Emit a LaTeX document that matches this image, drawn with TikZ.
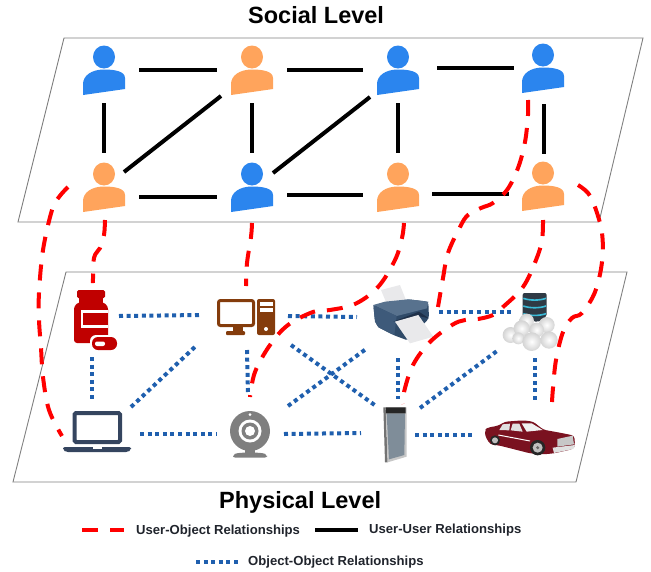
\documentclass[tikz,border=0pt]{standalone}
\usepackage{fontspec}
\setmainfont{Liberation Sans}
\definecolor{ublue}{HTML}{2B85EE}
\definecolor{uorange}{HTML}{FFA45C}
\definecolor{linkblue}{HTML}{1F5FAE}
\definecolor{medred}{HTML}{C00000}
\definecolor{pcbrown}{HTML}{843C0C}
\definecolor{lapnavy}{HTML}{35455F}
\definecolor{camgray}{HTML}{7F7F7F}
\definecolor{cardark}{HTML}{7A1220}
\definecolor{legendtext}{HTML}{20242C}
\definecolor{prbody}{HTML}{2F4A68}
\definecolor{prtop}{HTML}{58728E}
\definecolor{prside}{HTML}{3E5A7A}
\definecolor{prdark}{HTML}{1F3048}
\definecolor{prpaper}{HTML}{E9E9EB}
\definecolor{dbdark}{HTML}{2F3A45}
\definecolor{dbcyan}{HTML}{3BBBD8}
\definecolor{devscreen}{HTML}{7F8D99}
\tikzset{
  plane/.style={draw=black!50,line width=0.9pt},
  uu/.style={draw=black,line width=4pt},
  oo/.style={draw=linkblue,line width=4pt,dash pattern=on 4pt off 3.6pt},
  uo/.style={draw=red,line width=4pt,dash pattern=on 16pt off 12pt},
  userbox/.style={inner sep=0pt,minimum width=70pt,minimum height=67pt},
  objbox/.style={inner sep=0pt,minimum width=40pt,minimum height=40pt},
  title/.style={font=\fontsize{23.5}{26}\selectfont\bfseries,anchor=base west,inner sep=0pt},
  legend/.style={font=\fontsize{13.1}{15}\selectfont\bfseries,text=legendtext,anchor=west,inner sep=0pt},
  ballfill/.style={inner color=white,outer color=black!17}
}
\newcommand{\personicon}[4]{%
  \node[userbox] (#1) at (#2,#3+12.5) {};
  \begin{scope}[shift={(#2,#3)}]
    \fill[#4] (0,0) ellipse [x radius=11,y radius=11.5];
    \fill[#4] (-21,38) -- (21,32) -- (21,21) .. controls (21,14) and (10,12.5) .. (0,12.5)
      .. controls (-13,12.5) and (-21,19) .. (-21,27) -- cycle;
  \end{scope}}
\newcommand{\snowball}[3]{\shade[ballfill] (#1,#2) circle [radius=#3];}
\begin{document}
\begin{tikzpicture}[x=1pt,y=-1pt]
\useasboundingbox (0,0) rectangle (651,571);
% planes
\draw[plane] (64,38) -- (643,38) -- (599,222) -- (18,222) -- cycle;
\draw[plane] (66,272) -- (627,272) -- (576,482) -- (13,482) -- cycle;
% titles
\node[title] (socialtitle) at (248,23) {Social Level};
\node[title] (physicaltitle) at (219,508) {Physical Level};
% users
\personicon{u1}{104}{57}{ublue}
\personicon{u2}{252}{57}{uorange}
\personicon{u3}{398}{57}{ublue}
\personicon{u4}{543}{55}{ublue}
\personicon{u5}{104}{174}{uorange}
\personicon{u6}{252}{174}{ublue}
\personicon{u7}{398}{174}{uorange}
\personicon{u8}{543}{173}{uorange}
% object anchors
\node[objbox] (o1) at (92,320) {};
\node[objbox] (o2) at (246,317) {};
\node[objbox] (o3) at (402,315) {};
\node[objbox] (o4) at (532,320) {};
\node[objbox] (o5) at (97,432) {};
\node[objbox] (o6) at (250,434) {};
\node[objbox] (o7) at (395,435) {};
\node[objbox] (o8) at (530,438) {};
% user-user
\draw[uu] (u1.east) -- (u2.west);
\draw[uu] (u2.east) -- (u3.west);
\draw[uu] ([shift={(4,-1.5)}]u3.east) -- ([shift={(6,0.5)}]u4.west);
\draw[uu] ([shift={(0,10.5)}]u5.east) -- ([shift={(0,10.5)}]u6.west);
\draw[uu] ([shift={(0,8.5)}]u6.east) -- ([shift={(0,8.5)}]u7.west);
\draw[uu] ([shift={(-1,7.5)}]u7.east) -- ([shift={(1,8.5)}]u8.west);
\draw[uu] (u1.south) -- (u5.north);
\draw[uu] (u2.south) -- (u6.north);
\draw[uu] (u3.south) -- (u7.north);
\draw[uu] ([shift={(1,3)}]u4.south) -- ([shift={(1,2)}]u8.north);
\draw[uu] ([shift={(20,-14.5)}]u5.center) -- ([shift={(-31,26.5)}]u2.center);
\draw[uu] ([shift={(21,-13.5)}]u6.center) -- ([shift={(-28,27.5)}]u3.center);
% object-object
\draw[oo] ([shift={(27,-4)}]o1.center) -- ([shift={(-45,-2)}]o2.center);
\draw[oo] ([shift={(0,37)}]o1.center) -- ([shift={(-5,-32)}]o5.center);
\draw[oo] ([shift={(34,-25)}]o5.center) -- ([shift={(-49,28)}]o2.center);
\draw[oo] ([shift={(43,2)}]o5.center) -- ([shift={(-33,0)}]o6.center);
\draw[oo] ([shift={(1,33)}]o2.center) -- ([shift={(-2,-39)}]o6.center);
\draw[oo] ([shift={(34,0)}]o6.center) -- ([shift={(-34,-2)}]o7.center);
\draw[oo] ([shift={(42,-1)}]o2.center) -- ([shift={(-45,2)}]o3.center);
\draw[oo] ([shift={(45,28)}]o2.center) -- ([shift={(-19,-29)}]o7.center);
\draw[oo] ([shift={(38,-28)}]o6.center) -- ([shift={(-36,34)}]o3.center);
\draw[oo] ([shift={(37,-3)}]o3.center) -- ([shift={(-18,-8)}]o4.center);
\draw[oo] ([shift={(-4,43)}]o3.center) -- ([shift={(3,-36)}]o7.center);
\draw[oo] ([shift={(25,-27)}]o7.center) -- ([shift={(-35,31)}]o4.center);
\draw[oo] ([shift={(20,0)}]o7.center) -- ([shift={(-57,-3)}]o8.center);
\draw[oo] ([shift={(3,38)}]o4.center) -- ([shift={(5,-38)}]o8.center);
% medicine
\fill[medred,rounded corners=1.5pt] (77,290) rectangle (105,298);
\fill[medred,rounded corners=3pt] (74,343) -- (74,306) -- (79,302) -- (103,302) -- (108,306) -- (108,343) -- cycle;
\fill[medred] (79,297) rectangle (103,303);
\fill[white] (81,310) rectangle (108,328);
\fill[medred] (83,313) rectangle (108,325);
\fill[white,rounded corners=6pt] (90,335) rectangle (119,352);
\fill[medred,rounded corners=6pt] (92,337) rectangle (117,350);
\fill[white,rounded corners=2pt] (95,341.5) rectangle (105,346);
% pc
\draw[pcbrown,line width=3pt,fill=white,rounded corners=2pt] (218.5,300.5) rectangle (253.5,325.5);
\fill[pcbrown] (233,327) rectangle (243,331);
\fill[pcbrown,rounded corners=1pt] (226,331) rectangle (245,335);
\fill[pcbrown,rounded corners=2pt] (257,299) rectangle (275,335);
\fill[white] (259.5,302) rectangle (273,305.5);
\fill[white] (259.5,308) rectangle (273,311.5);
\fill[white] (266,329) circle [radius=2];
% laptop
\draw[lapnavy,line width=4pt,fill=white,rounded corners=1.5pt] (74.5,413) rectangle (120,442);
\fill[lapnavy,rounded corners=2pt] (63,447) -- (131,447) -- (131,450) -- (128,452) -- (66,452) -- (63,450) -- cycle;
\fill[white] (93,447) rectangle (102,449);
% webcam
\fill[camgray] (250,431) circle [radius=20];
\fill[white] (250,431) circle [radius=11.5];
\fill[camgray] (250,431) circle [radius=8.5];
\fill[white] (250,431) circle [radius=5];
\fill[white] (250,414.5) circle [radius=1.5];
\fill[camgray] (245,448) rectangle (255,455);
\fill[camgray,rounded corners=2pt] (233,457.5) -- (233,455) .. controls (238,452) and (262,452) .. (267,455) -- (267,457.5) -- cycle;
% printer
\begin{scope}[shift={(365,280)},scale=0.3333]
  \fill[prpaper] (48,30) -- (105,15) -- (125,65) -- (68,78) -- cycle;
  \fill[prbody,rounded corners=3pt] (25,75) -- (30,125) -- (40,142) -- (85,165) -- (130,182) -- (192,115) -- (190,65) -- (130,58) -- (60,72) -- cycle;
  \fill[prtop] (25,75) -- (60,65) -- (130,58) -- (190,65) -- (186,85) -- (95,108) -- cycle;
  \fill[prside] (25,75) -- (95,108) -- (88,165) -- (40,142) -- (30,125) -- cycle;
  \fill[prdark] (85,125) -- (162,95) -- (192,115) -- (160,108) -- cycle;
  \fill[prpaper] (90,125) -- (160,105) -- (205,170) -- (135,190) -- cycle;
\end{scope}
% database and cloud
\begin{scope}[shift={(480,285)},scale=0.3333]
  \fill[dbdark,rounded corners=2pt] (128,24) -- (200,24) -- (200,95) -- (172,112) -- (128,95) -- cycle;
  \draw[dbcyan,line width=1.6pt] (130,40) .. controls (150,47) and (178,47) .. (198,40);
  \draw[dbcyan,line width=1.6pt] (130,63) .. controls (150,70) and (178,70) .. (198,63);
  \draw[dbcyan,line width=1.6pt] (130,86) .. controls (150,93) and (178,93) .. (198,86);
  \snowball{140}{108}{22}
  \snowball{200}{120}{24}
  \snowball{92}{150}{24}
  \snowball{125}{130}{24}
  \snowball{170}{135}{22}
  \snowball{115}{160}{18}
  \snowball{207}{165}{26}
  \snowball{155}{170}{28}
\end{scope}
% device
\begin{scope}[shift={(375,400)},scale=0.3333]
  \fill[black!55] (25,22) -- (32,22) -- (38,187) -- (30,187) -- cycle;
  \fill[black!22] (32,22) -- (95,22) -- (95,170) -- (38,187) -- cycle;
  \fill[devscreen] (35,40) -- (90,40) -- (88,165) -- (42,178) -- cycle;
  \fill[black!85] (32,22) -- (92,22) -- (92,40) -- (33,40) -- cycle;
\end{scope}
% car
\begin{scope}[shift={(480,415)},scale=0.3333]
  \fill[cardark,rounded corners=3pt] (15,45) -- (22,38) -- (55,32) -- (75,20) -- (130,16) -- (160,20) -- (190,44) -- (250,55) -- (283,62) -- (285,90) -- (280,102) -- (222,115) -- (190,118) -- (150,115) -- (60,92) -- (30,88) -- (15,62) -- cycle;
  \fill[black!12] (58,45) -- (68,28) -- (90,26) -- (88,46) -- cycle;
  \fill[black!12] (92,46) -- (98,26) -- (118,26) -- (128,50) -- cycle;
  \fill[black!6] (125,25) -- (155,25) -- (188,45) -- (140,50) -- cycle;
  \draw[white,line width=1pt] (55,60) -- (150,78);
  \fill[black!22] (232,72) -- (278,62) -- (282,88) -- (232,95) -- cycle;
  \fill[black!12] (218,98) -- (285,90) -- (280,102) -- (222,114) -- cycle;
  \fill[black!85] (45,76) circle [radius=15];
  \fill[black!25] (45,76) circle [radius=9];
  \fill[black!85] (173,98) circle [radius=23];
  \fill[black!25] (173,98) circle [radius=15];
  \fill[black!60] (173,98) circle [radius=5];
\end{scope}
% user-object
\draw[uo] plot[smooth,tension=0.6] coordinates {([shift={(-36,0.5)}]u5.center) (59,197) (52,210) (43,250) (39,293) (39,320) (41,348) (43,377) (49,410) ([shift={(-35,4)}]o5.center)};
\draw[uo] plot[smooth,tension=0.6] coordinates {([shift={(1,33.5)}]u5.center) (104,235) (100,248) (94,258) ([shift={(1,-37)}]o1.center)};
\draw[uo] plot[smooth,tension=0.6] coordinates {([shift={(0,36.5)}]u6.center) (251,237) (247,263) ([shift={(0,-31)}]o2.center)};
\draw[uo] plot[smooth,tension=0.6] coordinates {([shift={(6,36.5)}]u7.center) (402,238) (395,260) (378,287) (355,304) (330,310) (313,312) (288,325) (270,345) (255,372) ([shift={(0,-37)}]o6.center)};
\draw[uo] plot[smooth,tension=0.6] coordinates {([shift={(-15,32.5)}]u4.center) (528,115) (525,142) (518,168) (507,190) (493,203) (481,208) (468,215) (460,227) (448,253) (443,278) ([shift={(36,-8)}]o3.center)};
\draw[uo] plot[smooth,tension=0.6] coordinates {([shift={(0,34.5)}]u8.center) (542,240) (536,260) (523,287) (503,307) (493,315) (478,319) (465,320) (452,325) (430,342) (413,365) (404,392) ([shift={(8,-31)}]o7.center)};
\draw[uo] plot[smooth,tension=0.6] coordinates {([shift={(35,-0.5)}]u8.center) (588,193) (595,207) (602,233) (602,262) (595,292) (582,313) (572,318) (563,332) (556,360) (553,388) ([shift={(22,-36)}]o8.center)};
% legend
\coordinate (la) at (82,530);
\coordinate (lb) at (124,530);
\coordinate (lc) at (315,530);
\coordinate (ld) at (358,530);
\coordinate (le) at (196,562);
\coordinate (lf) at (238,562);
\draw[uo] (la) -- (lb);
\draw[uu] (lc) -- (ld);
\draw[oo] (le) -- (lf);
\node[legend] (luo) at (136,531) {User-Object Relationships};
\node[legend] (luu) at (369,530) {User-User Relationships};
\node[legend] (loo) at (248,562) {Object-Object Relationships};
\end{tikzpicture}
\end{document}
